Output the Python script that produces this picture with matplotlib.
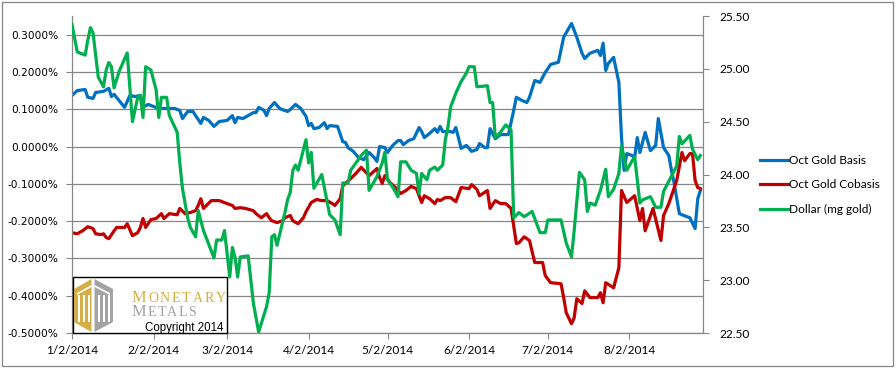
import matplotlib
matplotlib.use("Agg")
import matplotlib.pyplot as plt
from matplotlib.patches import Polygon, Rectangle
import pandas as pd
import numpy as np

# ---------------- data ----------------
start_date = "2014-01-02"

basis_days = [0,2,5,6,8,9,12,14,15,16,20,22,24,26,27,29,30,33,39,41,42,44,46,47,49,50,52,54,56,59,
              61,62,63,65,67,69,70,71,73,74,75,76,77,79,80,82,83,85,87,89,90,91,92,94,96,97,98,101,103,104,
              105,107,109,111,113,115,116,117,119,120,122,124,125,126,128,130,132,133,134,136,138,139,140,141,144,145,146,148,150,152,
              154,155,157,158,159,161,163,166,168,169,171,173,174,176,178,180,181,182,185,187,190,192,194,195,
              197,200,201,202,203,204,206,208,209,210,211,213,214,215,216,218,220,222,223,225,227,228,229,231,232,235,237,238,239]
basis_pct = [0.137,0.150,0.153,0.132,0.129,0.145,0.148,0.156,0.134,0.140,0.105,0.137,0.134,0.137,0.105,0.113,0.110,0.102,0.102,0.097,
             0.075,0.094,0.094,0.083,0.062,0.078,0.070,0.054,0.067,0.070,0.083,0.064,0.078,0.075,0.083,0.091,0.091,0.105,0.097,0.083,
             0.102,0.110,0.118,0.102,0.099,0.094,0.099,0.113,0.102,0.081,0.056,0.062,0.048,0.051,0.064,0.048,0.056,0.054,0.013,0.011,
             -0.003,-0.013,-0.030,-0.035,-0.016,-0.030,-0.040,0.000,-0.003,-0.016,0.003,0.016,0.016,0.005,0.016,0.021,0.051,0.040,0.024,0.035,
             0.048,0.038,0.054,0.040,0.040,0.038,0.051,-0.005,0.003,-0.013,-0.008,0.008,-0.003,-0.003,0.048,0.021,0.032,0.032,0.097,0.132,
             0.124,0.118,0.132,0.177,0.172,0.199,0.209,0.220,0.226,0.293,0.330,0.293,0.250,0.236,0.250,0.258,0.244,0.277,0.204,0.223,
             0.239,0.172,0.024,-0.064,-0.019,-0.024,-0.030,0.024,-0.016,0.038,-0.011,0.003,0.075,-0.003,-0.024,-0.064,-0.097,-0.180,-0.183,-0.191,
             -0.220,-0.140,-0.118]

cobasis_days = [0,2,4,6,8,9,11,12,13,14,16,17,20,21,23,25,26,27,28,30,32,34,35,37,40,41,43,45,47,48,
                49,50,53,56,59,61,62,64,66,69,70,72,74,75,76,78,80,81,83,84,86,87,88,89,91,93,95,97,99,100,
                102,103,104,106,108,110,113,116,117,118,119,121,123,125,127,129,131,133,134,136,138,139,140,142,144,146,148,151,152,154,
                155,158,159,161,163,165,167,169,170,172,174,176,179,180,182,186,187,188,190,191,192,194,195,197,
                200,201,202,203,206,208,209,211,214,216,217,218,221,224,225,227,230,232,233,235,236,237,238,239]
cobasis_pct = [-0.231,-0.234,-0.226,-0.215,-0.220,-0.234,-0.236,-0.234,-0.244,-0.247,-0.226,-0.217,-0.217,-0.207,-0.239,-0.231,-0.217,-0.193,-0.217,-0.196,
               -0.193,-0.180,-0.193,-0.180,-0.183,-0.166,-0.180,-0.177,-0.172,-0.158,-0.140,-0.166,-0.145,-0.145,-0.153,-0.158,-0.166,-0.164,-0.166,-0.172,
               -0.180,-0.191,-0.180,-0.191,-0.199,-0.204,-0.199,-0.191,-0.185,-0.199,-0.207,-0.199,-0.191,-0.175,-0.150,-0.142,-0.145,-0.145,-0.153,-0.158,
               -0.140,-0.105,-0.099,-0.086,-0.072,-0.056,-0.078,-0.059,-0.083,-0.099,-0.078,-0.097,-0.110,-0.126,-0.118,-0.107,-0.113,-0.150,-0.132,-0.140,
               -0.153,-0.142,-0.145,-0.137,-0.137,-0.148,-0.110,-0.113,-0.102,-0.115,-0.132,-0.118,-0.166,-0.145,-0.153,-0.153,-0.166,-0.260,-0.258,-0.242,
               -0.252,-0.311,-0.311,-0.346,-0.365,-0.368,-0.405,-0.446,-0.475,-0.459,-0.408,-0.421,-0.387,-0.405,-0.405,-0.392,-0.419,-0.365,-0.379,-0.325,
               -0.118,-0.150,-0.132,-0.199,-0.166,-0.226,-0.166,-0.252,-0.185,-0.153,-0.091,-0.016,-0.038,-0.019,-0.019,-0.091,-0.110,-0.113]

dollar_days = [0,2,5,6,7,8,10,12,13,14,15,16,18,21,23,25,26,27,28,30,32,33,34,36,37,40,41,42,44,45,
               47,48,50,54,55,57,58,59,60,61,62,63,64,67,69,71,74,75,76,77,78,80,81,82,83,84,85,86,89,90,
               91,92,95,98,100,102,103,105,106,108,110,112,113,116,118,119,120,122,124,125,127,129,131,132,133,135,136,138,139,141,
               142,143,144,146,148,150,151,153,154,158,159,160,161,163,165,167,168,170,172,175,178,180,181,186,
               188,190,191,193,195,196,197,199,201,203,204,206,208,209,211,214,215,216,217,220,222,224,225,230,231,232,235,236,238,239]
dollar_mg = [25.42,25.16,25.13,25.27,25.39,25.34,24.92,24.83,24.99,25.06,25.02,24.82,24.98,25.15,24.50,24.73,24.75,24.54,25.02,24.99,
             24.80,24.54,24.73,24.73,24.56,24.40,24.11,23.87,23.59,23.50,23.41,23.66,23.47,23.21,23.38,23.38,23.47,23.25,23.03,23.31,
             23.22,23.03,23.22,23.23,22.78,22.51,22.75,22.88,23.41,23.43,23.33,23.54,23.64,23.76,23.83,24.04,24.09,24.04,24.33,24.11,
             24.21,23.87,24.00,23.62,23.57,23.43,23.92,23.92,24.04,24.11,24.18,24.23,23.85,23.98,24.11,24.21,23.95,23.88,23.79,24.12,
             24.12,24.04,24.01,23.82,24.01,23.95,24.04,24.07,24.04,24.09,24.33,24.45,24.64,24.77,24.88,24.96,25.02,25.02,24.83,24.84,
             24.68,24.68,24.35,24.40,24.47,24.42,23.59,23.64,23.60,23.65,23.45,23.45,23.57,23.57,23.35,23.22,23.47,24.02,23.95,23.65,
             23.73,23.71,23.85,24.05,23.79,23.86,24.01,24.27,24.04,24.17,23.95,23.73,23.76,23.79,23.69,23.69,23.84,24.08,24.36,24.29,
             24.37,24.24,24.14,24.18]

series_names = ["Oct Gold Basis", "Oct Gold Cobasis", "Dollar (mg gold)"]
tick_months = ["2014-01-02","2014-02-02","2014-03-02","2014-04-02","2014-05-02","2014-06-02","2014-07-02","2014-08-02"]
left_ticks = [-0.5,-0.4,-0.3,-0.2,-0.1,0.0,0.1,0.2,0.3]
right_ticks = [22.5,23.0,23.5,24.0,24.5,25.0,25.5]

# ---------------- figure ----------------
W, H = 896, 369
fig = plt.figure(figsize=(W/100, H/100), dpi=100)
def fx(x): return x / W
def fy(y): return 1 - y / H

ax = fig.add_axes([fx(72), fy(333), fx(703) - fx(72), fy(16) - fy(333)])
ax2 = ax.twinx()

t0 = pd.Timestamp(start_date)
to_dates = lambda days: t0 + pd.to_timedelta(np.array(days), unit="D")

BLUE, RED, GREEN = "#0070C0", "#C00000", "#00B050"
GRID = "#868686"
lw = 2.3

l1, = ax.plot(to_dates(basis_days), basis_pct, color=BLUE, lw=lw, solid_joinstyle="round", label=series_names[0])
l2, = ax.plot(to_dates(cobasis_days), cobasis_pct, color=RED, lw=lw, solid_joinstyle="round", label=series_names[1])
l3, = ax2.plot(to_dates(dollar_days), dollar_mg, color=GREEN, lw=lw, solid_joinstyle="round", label=series_names[2])

ax.set_xlim(pd.Timestamp("2014-01-02"), pd.Timestamp("2014-08-30"))
ax.set_ylim(-0.5, 0.35)
ax2.set_ylim(22.5, 25.5)

ax.set_yticks(left_ticks)
ax.set_yticklabels([f"{v:.4f}%" for v in left_ticks], fontfamily="DejaVu Sans", fontsize=7.6)
ax2.set_yticks(right_ticks)
ax2.set_yticklabels([f"{v:.2f}" for v in right_ticks], fontfamily="Lato", fontsize=8.6)
xt = pd.to_datetime(tick_months)
ax.set_xticks(xt)
ax.set_xticklabels([f"{d.month}/{d.day}/{d.year}" for d in xt], fontfamily="Lato", fontsize=8.6)

ax.yaxis.grid(True, color=GRID, lw=0.9)
ax.set_axisbelow(True)
for a in (ax, ax2):
    for s in a.spines.values():
        s.set_color(GRID)
        s.set_linewidth(0.9)
    a.spines["top"].set_visible(False)
ax.spines["right"].set_visible(False)
ax2.spines["left"].set_visible(False)
ax2.spines["bottom"].set_visible(False)
ax.tick_params(axis="x", direction="out", length=4, color=GRID, pad=5, labelcolor="black")
ax.tick_params(axis="y", direction="out", length=4, color=GRID, pad=6, labelcolor="black")
ax2.tick_params(axis="y", direction="out", length=4, color=GRID, pad=8, labelcolor="black")
ax2.patch.set_visible(False)

# legend
fig.legend(handles=[l1, l2, l3], loc="upper left", bbox_to_anchor=(fx(760), fy(155)),
           frameon=False, borderpad=0, borderaxespad=0, handlelength=2.35, handletextpad=0.1,
           labelspacing=1.12, prop={"family": "Lato", "size": 8.6})

# outer chart border
fig.add_artist(Rectangle((fx(2), fy(366)), fx(893) - fx(2), fy(2) - fy(366), transform=fig.transFigure,
                         fill=False, edgecolor=GRID, lw=0.9, zorder=5))

# ---------------- logo box ----------------
fig.add_artist(Rectangle((fx(72.5), fy(333)), fx(227) - fx(72.5), fy(277) - fy(333), transform=fig.transFigure,
                         facecolor="white", edgecolor="black", lw=1.0, zorder=10))
GOLD, LGRAY = "#D6AE45", "#A3A3A3"
def poly(pts, color, z=11):
    fig.add_artist(Polygon([(fx(x), fy(y)) for x, y in pts], closed=True, transform=fig.transFigure,
                           facecolor=color, edgecolor="none", zorder=z))
poly([(91.5, 279), (91.5, 332), (74, 322), (74, 289)], GOLD)
poly([(94.5, 279), (94.5, 332), (113, 322), (113, 289)], LGRAY)
for xs in (79, 84, 89, 99, 104, 109):
    poly([(xs - 0.8, 295), (xs + 0.8, 295), (xs + 0.8, 322), (xs - 0.8, 322)], "white", 12)
poly([(77, 293), (91.5, 285), (91.5, 287), (77, 295)], "white", 12)
poly([(94.5, 285), (110, 293), (110, 295), (94.5, 287)], "white", 12)

times_w = {"M": .889, "O": .722, "N": .722, "E": .611, "T": .611, "A": .722, "R": .667, "Y": .722, "L": .611, "S": .556}
def small_caps(word, x0, base, color, big_px, small_px, track):
    fig.text(fx(x0), fy(base), word[0], fontfamily="Liberation Serif", fontsize=big_px * 0.72,
             color=color, ha="left", va="baseline", zorder=13)
    x = x0 + times_w[word[0]] * big_px + track
    for ch in word[1:]:
        fig.text(fx(x), fy(base), ch, fontfamily="Liberation Serif", fontsize=small_px * 0.72,
                 color=color, ha="left", va="baseline", zorder=13)
        x += times_w[ch] * small_px + track
small_caps("MONETARY", 131.5, 302.0, GOLD, 16.5, 14, 1.8)
small_caps("METALS", 131.5, 315.5, LGRAY, 16.5, 14, 1.3)
fig.text(fx(145), fy(330.5), "Copyright 2014", fontfamily="Liberation Sans", fontsize=8.3,
         color="black", ha="left", va="baseline", zorder=13)

fig.savefig("out.png", dpi=100)
